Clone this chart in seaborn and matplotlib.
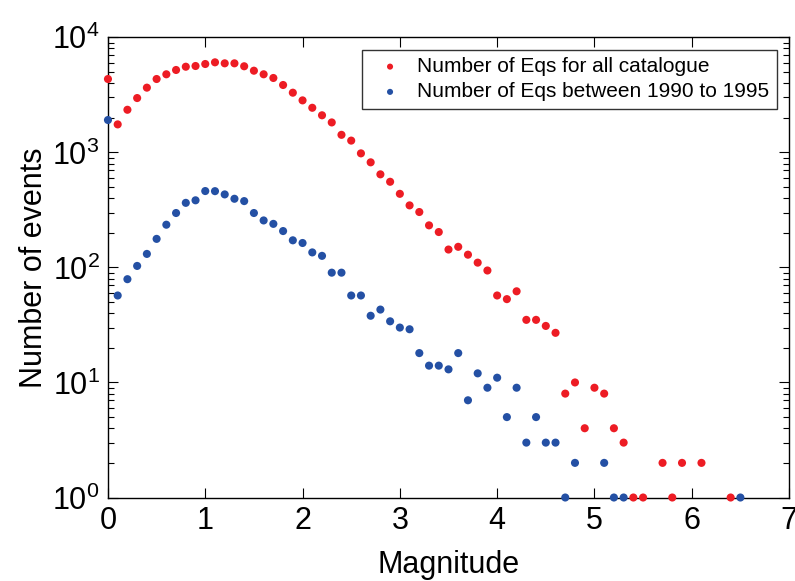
import matplotlib
matplotlib.use("Agg")
import matplotlib.pyplot as plt
import numpy as np
import pandas as pd
import seaborn as sns

# magnitude bins and event counts
mag_all = [0.0, 0.1, 0.2, 0.3, 0.4, 0.5, 0.6, 0.7, 0.8, 0.9,
           1.0, 1.1, 1.2, 1.3, 1.4, 1.5, 1.6, 1.7, 1.8, 1.9,
           2.0, 2.1, 2.2, 2.3, 2.4, 2.5, 2.6, 2.7, 2.8, 2.9,
           3.0, 3.1, 3.2, 3.3, 3.4, 3.5, 3.6, 3.7, 3.8, 3.9,
           4.0, 4.1, 4.2, 4.3, 4.4, 4.5, 4.6, 4.7, 4.8, 4.9,
           5.0, 5.1, 5.2, 5.3, 5.4, 5.5, 5.7, 5.8, 5.9, 6.1, 6.4]
n_all = [4340, 1750, 2345, 2965, 3650, 4340, 4770, 5200, 5550, 5630,
         5860, 6060, 5940, 5940, 5600, 5125, 4770, 4430, 3850, 3300,
         2830, 2440, 2100, 1820, 1420, 1265, 980, 819, 644, 555,
         436, 346, 303, 232, 203, 143, 151, 129, 110, 94,
         57, 53, 62, 35, 35, 31, 27, 8, 10, 4,
         9, 8, 4, 3, 1, 1, 2, 1, 2, 2, 1]

mag_9095 = [0.0, 0.1, 0.2, 0.3, 0.4, 0.5, 0.6, 0.7, 0.8, 0.9,
            1.0, 1.1, 1.2, 1.3, 1.4, 1.5, 1.6, 1.7, 1.8, 1.9,
            2.0, 2.1, 2.2, 2.3, 2.4, 2.5, 2.6, 2.7, 2.8, 2.9,
            3.0, 3.1, 3.2, 3.3, 3.4, 3.5, 3.6, 3.7, 3.8, 3.9,
            4.0, 4.1, 4.2, 4.3, 4.4, 4.5, 4.6, 4.7, 4.8,
            5.1, 5.2, 5.3, 6.5]
n_9095 = [1910, 57, 79, 103, 131, 177, 235, 297, 364, 383,
          461, 460, 431, 395, 377, 297, 256, 239, 207, 172,
          163, 135, 126, 90, 90, 57, 57, 38, 43, 34,
          30, 29, 18, 14, 14, 13, 18, 7, 12, 9,
          11, 5, 9, 3, 5, 3, 3, 1, 2,
          2, 1, 1, 1]

label_all = "Number of Eqs for all catalogue"
label_9095 = "Number of Eqs between 1990 to 1995"

sns.set_style("ticks")
plt.rcParams["font.family"] = ["Liberation Sans", "DejaVu Sans"]
plt.rcParams["text.color"] = "black"
plt.rcParams["axes.labelcolor"] = "black"

fig = plt.figure(figsize=(7.95, 5.81), dpi=100)
ax = fig.add_axes([0.1358, 0.1437, 0.8567, 0.7921])

df_all = pd.DataFrame({"mag": mag_all, "n": n_all})
df_9095 = pd.DataFrame({"mag": mag_9095, "n": n_9095})

sns.scatterplot(data=df_9095, x="mag", y="n", ax=ax, color="#2450a4",
                s=34, edgecolor="none", label=label_9095, clip_on=False, zorder=3)
sns.scatterplot(data=df_all, x="mag", y="n", ax=ax, color="#ed1c24",
                s=34, edgecolor="none", label=label_all, clip_on=False, zorder=3)

ax.set_yscale("log")
ax.set_xlim(0, 7)
ax.set_ylim(1, 1e4)
ax.set_xticks(np.arange(0, 8, 1))
ax.set_xlabel("Magnitude", fontsize=22, color="black", labelpad=10)
ax.set_ylabel("Number of events", fontsize=22, color="black", labelpad=2)

ax.tick_params(which="both", direction="in", top=True, right=True,
               labelsize=22, colors="black", width=0.8)
ax.tick_params(which="major", length=7, pad=6)
ax.tick_params(which="minor", length=4)
for sp in ax.spines.values():
    sp.set_linewidth(1.0)
    sp.set_color("black")

handles, labels = ax.get_legend_handles_labels()
leg = ax.legend(handles[::-1], labels[::-1], loc="upper right",
                fontsize=15, frameon=True, fancybox=False, markerscale=0.75,
                borderaxespad=0.6, handletextpad=0.3, labelspacing=0.3,
                borderpad=0.35)
leg.get_frame().set_edgecolor("black")
leg.get_frame().set_linewidth(1.0)

fig.savefig("out.png", dpi=100)
